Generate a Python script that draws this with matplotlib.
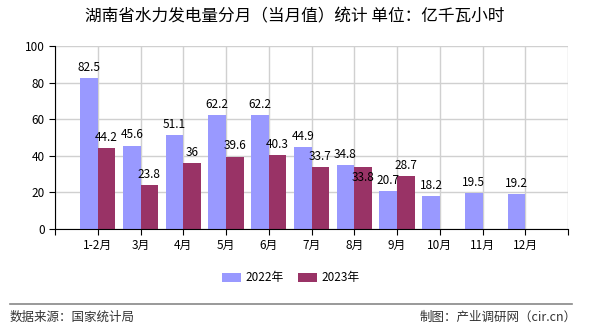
import matplotlib
matplotlib.use("Agg")
import matplotlib.pyplot as plt
import numpy as np

plt.rcParams['font.family'] = ['Noto Sans CJK SC', 'DejaVu Sans']

months = ["1-2月", "3月", "4月", "5月", "6月", "7月", "8月", "9月", "10月", "11月", "12月"]
v2022 = [82.5, 45.6, 51.1, 62.2, 62.2, 44.9, 34.8, 20.7, 18.2, 19.5, 19.2]
v2023 = [44.2, 23.8, 36, 39.6, 40.3, 33.7, 33.8, 28.7]
c2022 = "#9999ff"
c2023 = "#993366"

fig = plt.figure(figsize=(5.9, 3.3), dpi=100)
ax = fig.add_axes([55/590, 1-229/330, (568-55)/590, (229-46)/330])

x = np.arange(len(months))
w = 0.41
b1 = ax.bar(x - w/2, v2022, w, color=c2022, label="2022年", zorder=2)
b2 = ax.bar(np.arange(len(v2023)) + w/2, v2023, w, color=c2023, label="2023年", zorder=2)

for r, v in zip(b1, v2022):
    ax.annotate(f"{v:g}", (r.get_x() + r.get_width()/2, v), xytext=(0, 3),
                textcoords="offset points", ha="center", va="bottom", fontsize=8.5)

for i, (r, v) in enumerate(zip(b2, v2023)):
    # label pushed down when it would collide with the 2022 label next to it
    dy = -12 if abs(v - v2022[i]) < 3 else 3
    ax.annotate(f"{v:g}", (r.get_x() + r.get_width()/2, v), xytext=(0, dy),
                textcoords="offset points", ha="center", va="bottom", fontsize=8.5)

ax.set_xlim(-1, len(months))
ax.set_ylim(0, 100)
ax.set_yticks(range(0, 101, 20))
ax.set_xticks(np.arange(-1, len(months) + 1))
ax.set_xticklabels([""] + months + [""])
ax.tick_params(axis="both", labelsize=8.5, length=4, color="black")
ax.grid(True, color="#d0d0d0", linewidth=1, zorder=0)
ax.spines["top"].set_visible(False)
ax.spines["right"].set_visible(False)

fig.text(0.5, 1-17/330, "湖南省水力发电量分月（当月值）统计 单位：亿千瓦小时",
         ha="center", va="center", fontsize=12)

fig.legend(handles=[b1, b2], loc="center", bbox_to_anchor=(291/590, 1-278/330),
           ncol=2, frameon=False, fontsize=8.5, handlelength=1.6, handleheight=0.7,
           columnspacing=1.2, handletextpad=0.4)

fig.add_artist(plt.Line2D([10/590, 572/590], [1-304/330, 1-304/330], color="#888888", linewidth=1.2))
fig.text(10/590, 1-317/330, "数据来源：国家统计局", ha="left", va="center", fontsize=9, color="#333333")
fig.text(577/590, 1-317/330, "制图：产业调研网（cir.cn）", ha="right", va="center", fontsize=9, color="#333333")

fig.savefig("out.png", dpi=100)
